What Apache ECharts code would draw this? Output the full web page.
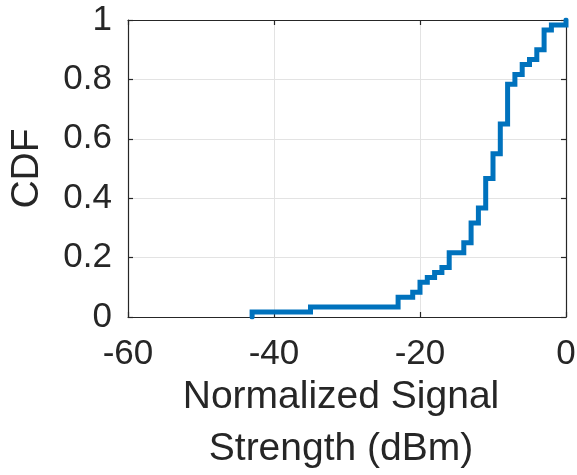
<!DOCTYPE html>
<html>
<head>
<meta charset="utf-8">
<script src="https://cdn.jsdelivr.net/npm/echarts@6/dist/echarts.min.js"></script>
<style>
  html, body { margin: 0; padding: 0; background: #fff; }
  #chart { width: 577px; height: 475px; }
</style>
</head>
<body>
<div id="chart"></div>
<script>
// Empirical CDF of normalized signal strength: distinct sample values (dBm)
// and the running count of samples at or below each value.
const signalDbm = [-43, -35, -23, -21, -20, -19, -18, -17, -16, -14, -13, -12, -11, -10, -9, -8, -7, -6, -5, -4, -3, -2, 0];
const cumulativeCount = [1, 2, 4, 5, 7, 8, 9, 10, 13, 15, 19, 22, 28, 33, 39, 47, 49, 51, 52, 54, 58, 59, 60];
const sampleCount = 60;

const xTicks = [-60, -40, -20, 0];
const yTicks = [0, 0.2, 0.4, 0.6, 0.8, 1];

// Step points: start at zero probability at the smallest sample.
const cdfPoints = [[signalDbm[0], 0]].concat(
  signalDbm.map((v, i) => [v, cumulativeCount[i] / sampleCount])
);

const FONT = '"Liberation Sans", Arial, Helvetica, sans-serif';
const INK = '#262626';
const GRID = '#e3e3e3';

const baseX = {
  type: 'value', min: xTicks[0], max: xTicks[xTicks.length - 1],
  interval: xTicks[1] - xTicks[0]
};
const baseY = {
  type: 'value', min: yTicks[0], max: yTicks[yTicks.length - 1],
  interval: yTicks[1] - yTicks[0]
};

const chart = echarts.init(document.getElementById('chart'), null, { renderer: 'canvas' });
chart.setOption({
  animation: false,
  backgroundColor: '#ffffff',
  grid: { left: 128, right: 11, top: 20, bottom: 158, containLabel: false, outerBoundsMode: 'none' },
  xAxis: [
    Object.assign({}, baseX, {
      position: 'bottom',
      name: 'Normalized Signal\nStrength (dBm)',
      nameLocation: 'middle',
      nameGap: 54,
      nameMoveOverlap: false,
      nameTextStyle: { fontFamily: FONT, fontSize: 39, color: INK, lineHeight: 52, padding: [0, 12, 0, 0] },
      axisLine: { show: true, onZero: false, lineStyle: { color: INK, width: 1.2 } },
      axisTick: { show: true, inside: true, length: 5, lineStyle: { color: INK, width: 1.2 } },
      axisLabel: { fontFamily: FONT, fontSize: 35, color: INK, margin: 20 },
      splitLine: { show: true, lineStyle: { color: GRID, width: 1 } }
    }),
    Object.assign({}, baseX, {
      position: 'top',
      axisLine: { show: true, onZero: false, lineStyle: { color: INK, width: 1.2 } },
      axisTick: { show: true, inside: true, length: 5, lineStyle: { color: INK, width: 1.2 } },
      axisLabel: { show: false },
      splitLine: { show: false }
    })
  ],
  yAxis: [
    Object.assign({}, baseY, {
      position: 'left',
      name: 'CDF',
      nameLocation: 'middle',
      nameGap: 81,
      nameMoveOverlap: false,
      nameTextStyle: { fontFamily: FONT, fontSize: 39, color: INK },
      axisLine: { show: true, onZero: false, lineStyle: { color: INK, width: 1.2 } },
      axisTick: { show: true, inside: true, length: 5, lineStyle: { color: INK, width: 1.2 } },
      axisLabel: { fontFamily: FONT, fontSize: 35, color: INK, margin: 16 },
      splitLine: { show: true, lineStyle: { color: GRID, width: 1 } }
    }),
    Object.assign({}, baseY, {
      position: 'right',
      axisLine: { show: true, onZero: false, lineStyle: { color: INK, width: 1.2 } },
      axisTick: { show: true, inside: true, length: 5, lineStyle: { color: INK, width: 1.2 } },
      axisLabel: { show: false },
      splitLine: { show: false }
    })
  ],
  series: [{
    type: 'line',
    xAxisIndex: 0,
    yAxisIndex: 0,
    step: 'end',
    data: cdfPoints,
    showSymbol: false,
    symbol: 'none',
    lineStyle: { color: '#0072BD', width: 5, cap: 'round', join: 'miter' },
    z: 5
  }]
});
</script>
</body>
</html>
